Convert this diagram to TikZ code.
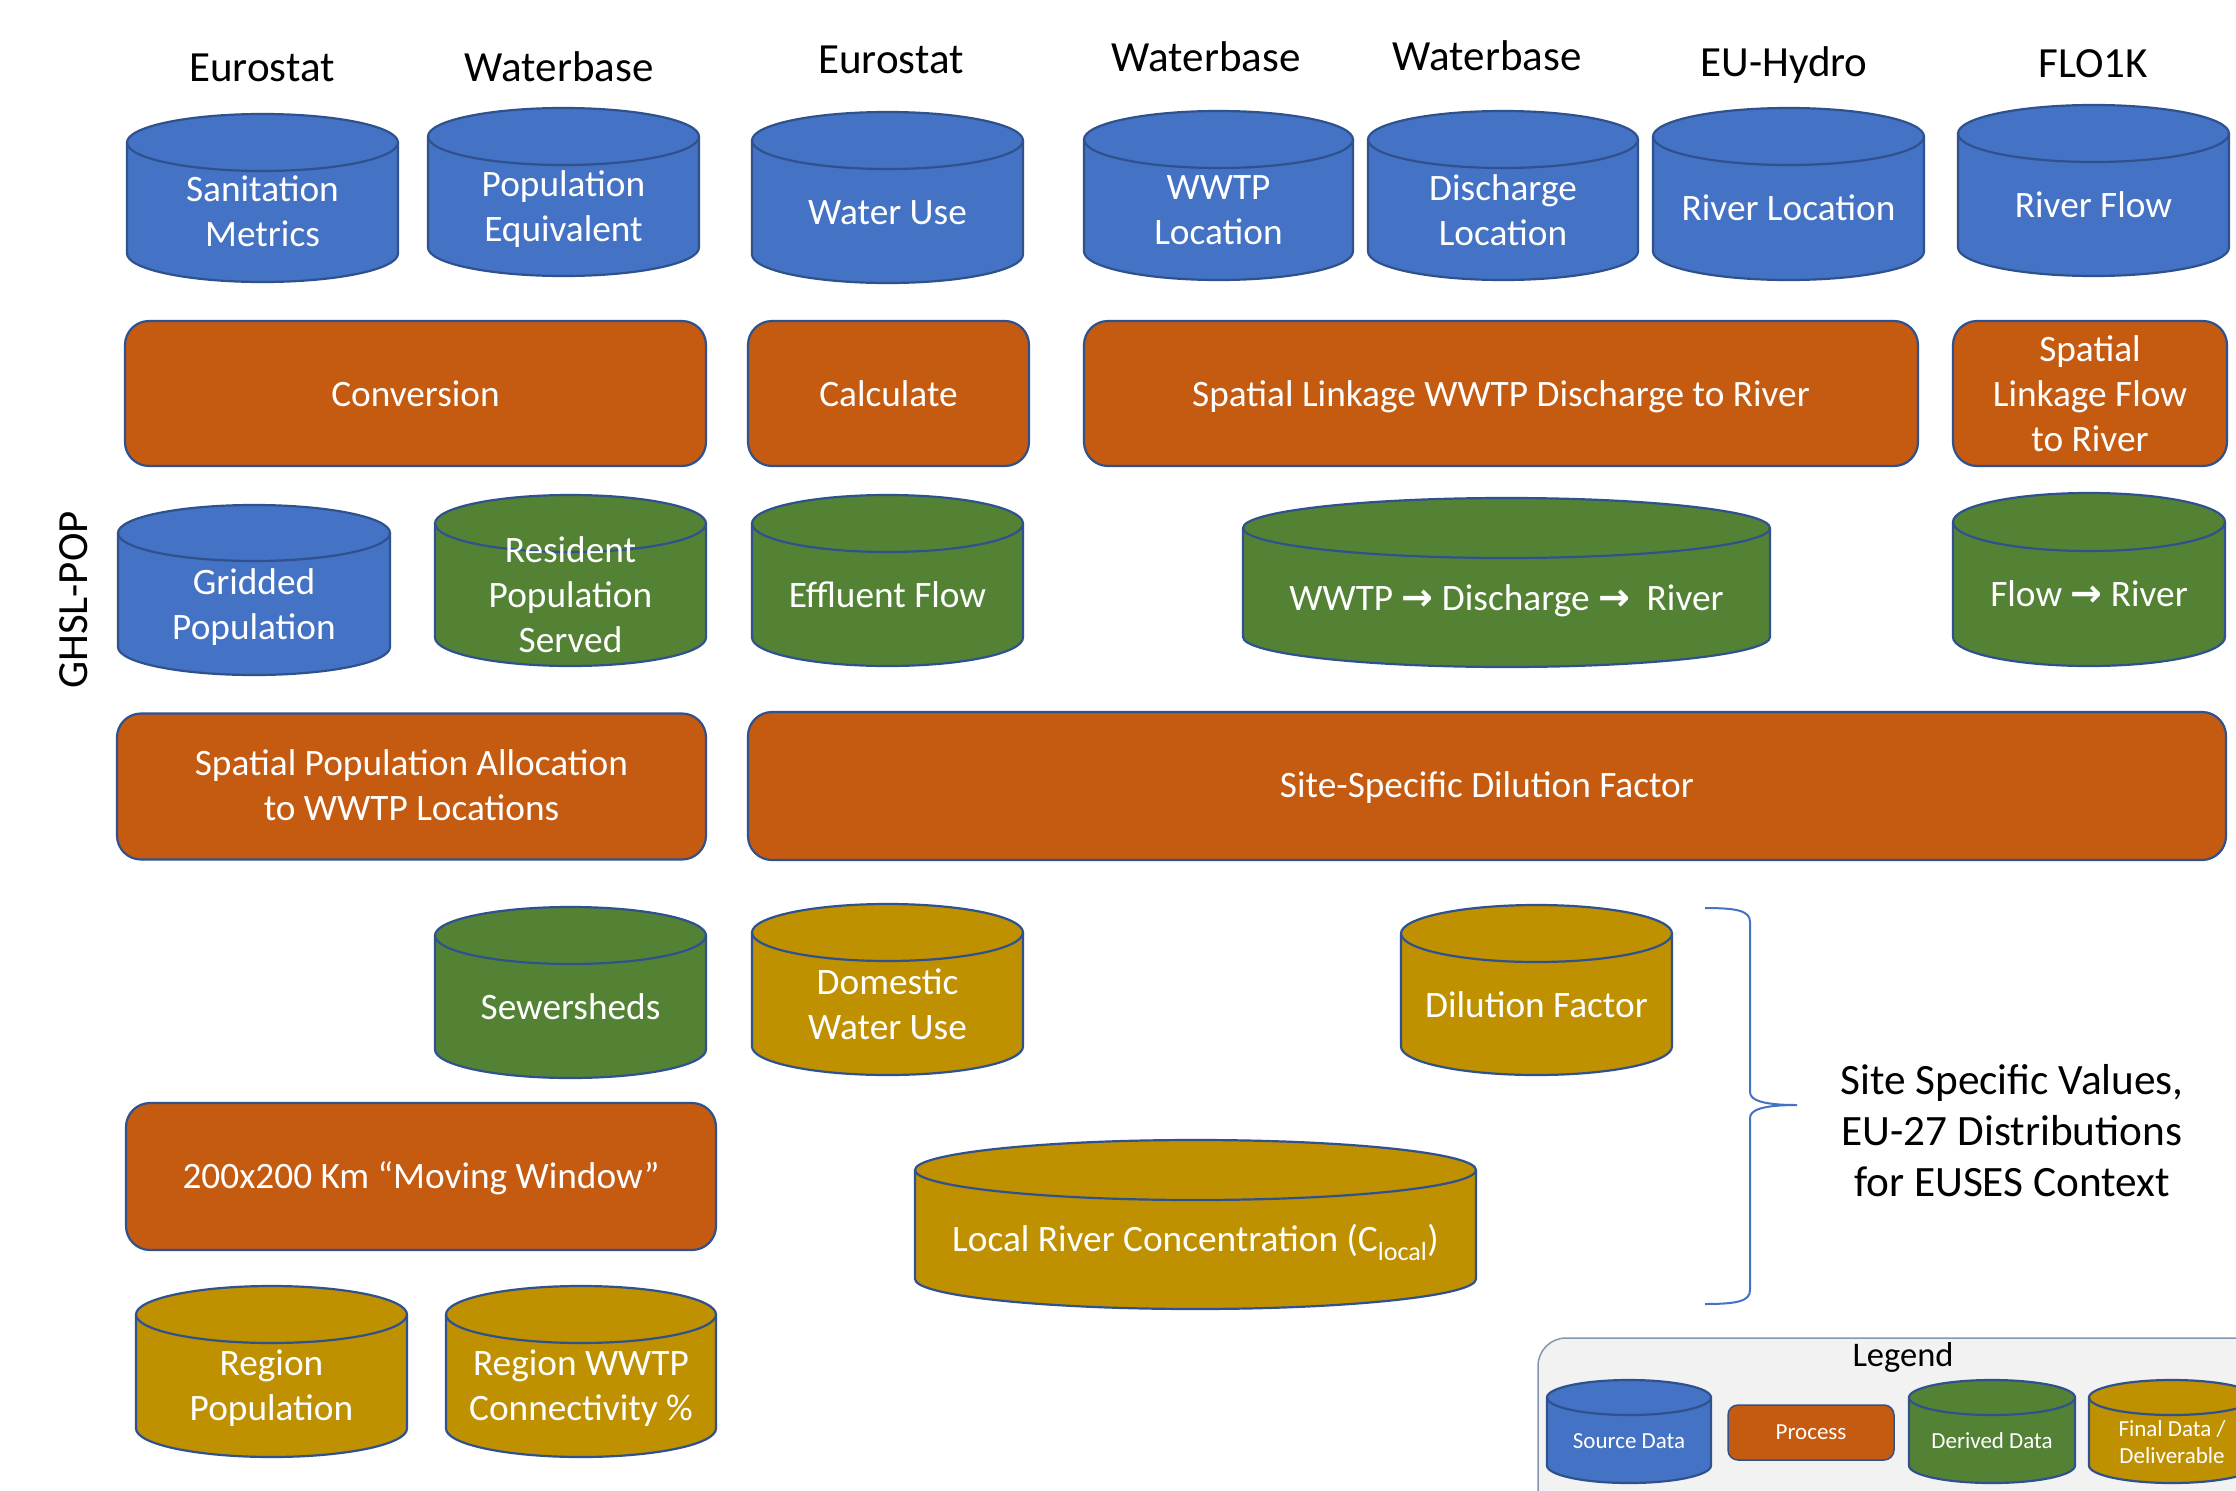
\documentclass[tikz,border=0pt]{standalone}
\usepackage{fontspec}
\setmainfont{Carlito}
\newfontfamily\arrowfont{DejaVu Sans Bold}
\definecolor{srcblue}{HTML}{4472C4}
\definecolor{procor}{HTML}{C55A11}
\definecolor{derivgr}{HTML}{548235}
\definecolor{finalgd}{HTML}{BF9000}
\definecolor{edgeblue}{HTML}{2F528F}
\definecolor{bracec}{HTML}{4472C4}
\definecolor{legfill}{HTML}{F2F2F2}
\definecolor{legedge}{HTML}{8497B0}
\newcommand\arr{{\arrowfont\fontsize{38}{45}\selectfont\char"2192}}
\tikzset{tdy/.code={\def\tdyval{#1}}}
% cylinder: #1 name, #2 L, #3 T, #4 R, #5 B, #6 ry, #7 colour, #8 text, #9 extra style
\newcommand\mycyl[9]{%
  \begin{scope}[tdy=1, #9]
  \pgfmathsetmacro\cx{(#2+#4)/2}%
  \pgfmathsetmacro\rx{(#4-#2)/2}%
  \filldraw[cylline, fill=#7] ({#2},{#3+#6}) -- ({#2},{#5-#6})
     arc[start angle=180, end angle=0, x radius=\rx, y radius=#6]
     -- ({#4},{#3+#6})
     arc[start angle=0, end angle=-180, x radius=\rx, y radius=#6] -- cycle;
  \draw[cylline] ({#2},{#3+#6}) arc[start angle=180, end angle=0, x radius=\rx, y radius=#6];
  \node[celltext, #9] (#1) at (\cx,{(#3+#5+#6)/2+2.6+\tdyval}) {#8};
  \end{scope}
}
\begin{document}
\begin{tikzpicture}[x=1pt, y=-1pt,
  cylline/.style={draw=edgeblue, line width=2.2pt},
  celltext/.style={text=white, font=\fontsize{37.3}{45}\selectfont, align=center, inner sep=0pt,
     execute at begin node=\strut, execute at end node=\strut},
  procbox/.style={draw=edgeblue, line width=2.2pt, fill=procor, rounded corners=24pt, inner sep=0pt},
  lbl/.style={anchor=base, font=\fontsize{43}{51}\selectfont, inner sep=0pt, text=black},
  small/.style={line width=1.5pt, font=\fontsize{23}{27}\selectfont},
  brace/.style={draw=bracec, line width=2pt}
]
\path[use as bounding box, clip] (0,0) rectangle (2236,1491);
\fill[white] (0,0) rectangle (2236,1491);

% source labels
\node[lbl] (l1) at (262,81) {Eurostat};
\node[lbl] (l2) at (559,81) {Waterbase};
\node[lbl] (l3) at (891,73) {Eurostat};
\node[lbl] (l4) at (1206,71) {Waterbase};
\node[lbl] (l5) at (1487,70) {Waterbase};
\node[lbl] (l6) at (1784,76) {EU-Hydro};
\node[lbl] (l7) at (2093,77) {FLO1K};
\node[lbl, rotate=90] (ghsl) at (87,600) {GHSL-POP};

% top row of source data
\mycyl{sanmet}{127}{114}{398}{282}{28.5}{srcblue}{Sanitation\\Metrics}{tdy=3}
\mycyl{popeq}{428}{108}{699}{276}{28.5}{srcblue}{Population\\Equivalent}{tdy=4}
\mycyl{wateruse}{752}{112}{1023}{283}{28.5}{srcblue}{Water Use}{}
\mycyl{wwtploc}{1084}{111}{1353}{280}{28.5}{srcblue}{WWTP\\Location}{tdy=4}
\mycyl{disloc}{1368}{111}{1638}{280}{28.5}{srcblue}{Discharge\\Location}{tdy=4}
\mycyl{riverloc}{1653}{108}{1924}{280}{28.5}{srcblue}{River Location}{}
\mycyl{riverflow}{1958}{105}{2229}{276}{28.5}{srcblue}{River Flow}{}

% first row of processes
\node[procbox, minimum width=581pt, minimum height=145pt] (conv) at (415.5,393.5) {};
\node[celltext] (convt) at (415.5,397.5) {Conversion};
\node[procbox, minimum width=281pt, minimum height=145pt] (calc) at (888.5,393.5) {};
\node[celltext] (calct) at (888.5,397.5) {Calculate};
\node[procbox, minimum width=834pt, minimum height=145pt] (linkw) at (1501,393.5) {};
\node[celltext] (linkwt) at (1501,397.5) {Spatial Linkage WWTP Discharge to River};
\node[procbox, minimum width=274pt, minimum height=145pt] (linkf) at (2090,393.5) {};
\node[celltext] (linkft) at (2090,400.5) {Spatial\\Linkage Flow\\to River};

% second row
\mycyl{gridpop}{118}{505}{390}{675}{28}{srcblue}{Gridded\\Population}{tdy=4.5}
\mycyl{respop}{435}{495}{706}{666}{28.5}{derivgr}{Resident\\Population\\Served}{tdy=3.5}
\mycyl{effl}{752}{495}{1023}{666}{28.5}{derivgr}{Effluent Flow}{}
\mycyl{wdr}{1243}{498}{1770}{667}{30}{derivgr}{WWTP \arr{} Discharge \arr{} \ River}{}
\mycyl{flowr}{1953}{493}{2225}{666}{29}{derivgr}{Flow \arr{} River}{}

% second row of processes
\node[procbox, minimum width=589pt, minimum height=146pt] (alloc) at (411.5,786.5) {};
\node[celltext] (alloct) at (411.5,792) {Spatial Population Allocation\\to WWTP Locations};
\node[procbox, minimum width=1478pt, minimum height=148pt] (sitedf) at (1487,786) {};
\node[celltext] (sitedft) at (1487,788.5) {Site-Specific Dilution Factor};

% outputs
\mycyl{sewer}{435}{907}{706}{1078}{28.5}{derivgr}{Sewersheds}{}
\mycyl{domwu}{752}{904}{1023}{1075}{28.5}{finalgd}{Domestic\\Water Use}{tdy=4}
\mycyl{dilf}{1401}{905}{1672}{1075}{28.5}{finalgd}{Dilution Factor}{tdy=2}
\node[procbox, minimum width=590pt, minimum height=147pt] (movwin) at (421,1176.5) {};
\node[celltext] (movwint) at (421,1179) {200x200 Km “Moving Window”};
\mycyl{lrc}{915}{1140}{1476}{1309}{30}{finalgd}{Local River Concentration (C\textsubscript{local})}{tdy=0}
\mycyl{regpop}{136}{1286}{407}{1457}{28.5}{finalgd}{Region\\Population}{tdy=4}
\mycyl{regcon}{446}{1286}{716}{1457}{28.5}{finalgd}{Region WWTP\\Connectivity \%}{tdy=4}

% brace and note
\draw[brace] (1705,908) .. controls (1738,908) and (1750,911) .. (1750,922)
  -- (1750,1092) .. controls (1750,1100) and (1762,1105) .. (1797,1105)
  .. controls (1762,1105) and (1750,1110) .. (1750,1118)
  -- (1750,1290) .. controls (1750,1301) and (1738,1304) .. (1705,1304);
\node[font=\fontsize{43.3}{51.3}\selectfont, align=center, inner sep=0pt,
  execute at begin node=\strut, execute at end node=\strut] (note) at (2012,1138)
  {Site Specific Values,\\EU-27 Distributions\\for EUSES Context};

% legend
\draw[legedge, fill=legfill, line width=1.5pt, rounded corners=28pt] (1538,1338) rectangle (2290,1540);
\node[font=\fontsize{34.5}{41}\selectfont, inner sep=0pt] (legtitle) at (1903,1357) {Legend};
\mycyl{lsrc}{1547}{1380}{1711}{1483}{17.5}{srcblue}{Source Data}{small, tdy=0}
\node[procbox, line width=1.5pt, rounded corners=10pt, minimum width=166pt, minimum height=55pt] (lproc) at (1811,1432.5) {};
\node[celltext, small] (lproct) at (1811,1434) {Process};
\mycyl{lder}{1909}{1380}{2075}{1483}{17.5}{derivgr}{Derived Data}{small, tdy=0}
\mycyl{lfin}{2089}{1380}{2255}{1483}{17.5}{finalgd}{Final Data /\\Deliverable}{small, tdy=3}
\end{tikzpicture}
\end{document}
